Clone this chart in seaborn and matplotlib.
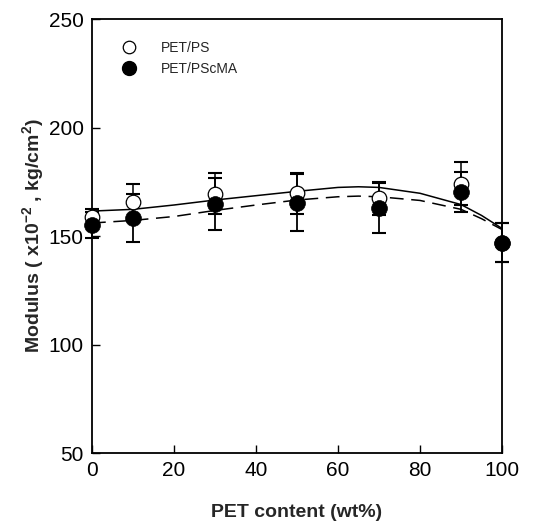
import numpy as np
import pandas as pd
import matplotlib
import matplotlib.pyplot as plt
import seaborn as sns
from matplotlib.lines import Line2D

matplotlib.use('Agg')

# data
pet = [0, 10, 30, 50, 70, 90, 100]
ps_mod = [159, 165.5, 169.5, 169.7, 167.4, 174.2, 147]
ps_err = [3.5, 8.5, 9.5, 9.5, 7.5, 10, 9]
pscma_mod = [155, 158.2, 164.6, 165.4, 163, 170.3, 147]
pscma_err = [6, 11, 12, 13, 11.5, 9, 9]

# fitted curves
curve_x = [0, 10, 20, 30, 40, 50, 60, 65, 70, 80, 90, 95, 100]
ps_curve = [161.5, 162.3, 164.3, 166.6, 168.6, 170.6, 172.4, 172.7, 172.4, 169.7, 164.5, 159.5, 153.5]
pscma_curve = [156.0, 157.2, 159.0, 161.8, 164.3, 166.6, 168.1, 168.4, 168.1, 166.4, 162.3, 158.0, 153.0]

sns.set_style("ticks")
plt.rcParams['font.family'] = ['Liberation Sans', 'DejaVu Sans']
plt.rcParams['mathtext.fontset'] = 'custom'
plt.rcParams['mathtext.rm'] = 'Liberation Sans:bold'
plt.rcParams['mathtext.default'] = 'rm'

fig = plt.figure(figsize=(5.49, 5.23), dpi=100)
ax = fig.add_axes([0.1676, 0.1338, 0.7468, 0.8298])

curves = pd.DataFrame({'x': curve_x, 'ps': ps_curve, 'pscma': pscma_curve})
sns.lineplot(data=curves, x='x', y='ps', ax=ax, color='black', lw=1.1)
sns.lineplot(data=curves, x='x', y='pscma', ax=ax, color='black', lw=1.1,
             dashes=False, linestyle=(0, (9, 5)))

# error bars
for yv, ev, lw in [(ps_mod, ps_err, 1.1), (pscma_mod, pscma_err, 1.3)]:
    eb = ax.errorbar(pet, yv, yerr=ev, fmt='none', ecolor='black', elinewidth=lw,
                     capsize=5, capthick=1.5, zorder=3)
    for art in eb.lines[1] + eb.lines[2]:
        art.set_clip_on(False)

pts = pd.DataFrame({'x': pet, 'ps': ps_mod, 'pscma': pscma_mod})
sns.scatterplot(data=pts, x='x', y='ps', ax=ax, s=110, facecolor='white',
                edgecolor='black', linewidth=0.9, zorder=4, clip_on=False)
sns.scatterplot(data=pts, x='x', y='pscma', ax=ax, s=130, color='black',
                edgecolor='black', linewidth=0.5, zorder=5, clip_on=False)

ax.set_xlim(0, 100)
ax.set_ylim(50, 250)
ax.set_xticks([0, 20, 40, 60, 80, 100])
ax.set_yticks([50, 100, 150, 200, 250])
ax.tick_params(direction='in', length=6, width=1, labelsize=15, pad=6,
               top=False, right=False, colors='black')
for sp in ax.spines.values():
    sp.set_linewidth(1.3)
    sp.set_color('black')

ax.set_xlabel('PET content (wt%)', fontsize=14, fontweight='bold', labelpad=17)
ax.set_ylabel(r'Modulus ( x10$^{-2}$ , kg/cm$^{2}$)', fontsize=14, fontweight='bold', labelpad=2)

handles = [
    Line2D([], [], marker='o', ls='none', markersize=9, markerfacecolor='white',
           markeredgecolor='black', markeredgewidth=0.9),
    Line2D([], [], marker='o', ls='none', markersize=10, markerfacecolor='black',
           markeredgecolor='black'),
]
ax.legend(handles, ['PET/PS', 'PET/PScMA'], loc='upper left', bbox_to_anchor=(0.025, 0.978),
          frameon=False, fontsize=10, handletextpad=1.3, labelspacing=0.5)

plt.savefig('out.png', dpi=100)
plt.close()
